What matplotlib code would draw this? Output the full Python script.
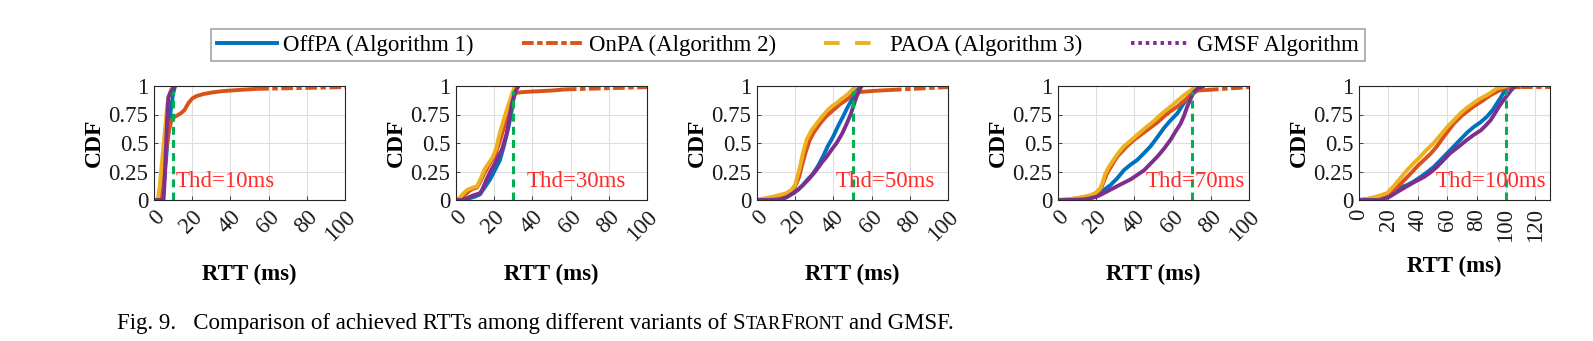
import numpy as np
import matplotlib
matplotlib.use("Agg")
import matplotlib.pyplot as plt
from matplotlib.lines import Line2D

plt.rcParams['font.family'] = ['Liberation Serif', 'DejaVu Serif']

# ---------------- data ----------------
thresholds = [10, 30, 50, 70, 100]
x_limits = [100, 100, 100, 100, 130]
x_ticks_short = [0, 20, 40, 60, 80, 100]
x_ticks_long = [0, 20, 40, 60, 80, 100, 120]
y_ticks = [0, 0.25, 0.5, 0.75, 1]
y_tick_labels = ['0', '0.25', '0.5', '0.75', '1']
series_names = ['OffPA (Algorithm 1)', 'OnPA (Algorithm 2)',
                'PAOA (Algorithm 3)', 'GMSF Algorithm']

# Thd = 10 ms
offpa_10_x = [0, 4, 5, 6, 7, 8, 9, 10, 11]
offpa_10_y = [0, 0, 0.1, 0.3, 0.5, 0.68, 0.82, 0.93, 1.0]
onpa_10_x = [0, 3, 4, 5, 6, 7, 8, 9, 10, 11, 12, 14, 16, 18, 20, 22, 26, 31, 36, 41.5, 47, 54, 100]
onpa_10_y = [0, 0, 0.08, 0.22, 0.38, 0.52, 0.62, 0.69, 0.72, 0.73, 0.74, 0.76, 0.79, 0.85, 0.89,
             0.91, 0.93, 0.945, 0.955, 0.962, 0.968, 0.975, 0.99]
paoa_10_x = [0, 2, 3, 4, 5, 6, 7, 8, 9, 10]
paoa_10_y = [0, 0, 0.12, 0.3, 0.48, 0.66, 0.84, 0.92, 0.97, 1.0]
gmsf_10_x = [0, 5, 5.5, 6, 6.5, 7, 7.5, 8.5, 9.5, 11]
gmsf_10_y = [0, 0, 0.15, 0.35, 0.55, 0.75, 0.9, 0.94, 0.97, 1.0]

# Thd = 30 ms
offpa_30_x = [0, 4, 6, 8, 10, 12.6, 15, 17.8, 20, 23, 25, 27.5, 29, 30, 31.8]
offpa_30_y = [0, 0, 0.01, 0.02, 0.03, 0.05, 0.11, 0.18, 0.25, 0.35, 0.47, 0.64, 0.77, 0.88, 0.99]
onpa_30_x = [0, 3, 5, 7, 9, 11, 13, 15, 17, 19, 21, 23, 25, 27, 29, 30.5, 32, 34, 38, 44, 50, 57, 100]
onpa_30_y = [0, 0.02, 0.05, 0.08, 0.1, 0.11, 0.17, 0.24, 0.3, 0.35, 0.42, 0.52, 0.63, 0.75, 0.86,
             0.93, 0.94, 0.945, 0.95, 0.955, 0.96, 0.97, 0.99]
paoa_30_x = [0, 2, 4, 6, 9, 11, 13, 15, 17, 19, 21, 22.5, 24, 26, 28, 29.5, 31]
paoa_30_y = [0, 0.02, 0.06, 0.09, 0.11, 0.12, 0.19, 0.27, 0.32, 0.37, 0.45, 0.56, 0.65, 0.76, 0.86, 0.94, 1.0]
gmsf_30_x = [0, 3, 5.6, 9, 12.6, 14, 16, 18, 20.4, 22, 24, 26.5, 28, 29.3, 31, 32.8]
gmsf_30_y = [0, 0, 0.015, 0.04, 0.06, 0.1, 0.18, 0.25, 0.32, 0.38, 0.44, 0.58, 0.72, 0.85, 0.95, 1.0]

# Thd = 50 ms
offpa_50_x = [0, 5, 10, 13.8, 16, 19, 21.5, 24, 26.5, 29.3, 32, 34.5, 37, 40, 42.5, 45, 47, 48.7,
              50.5, 52, 54]
offpa_50_y = [0, 0, 0.005, 0.015, 0.03, 0.06, 0.09, 0.13, 0.18, 0.23, 0.3, 0.38, 0.47, 0.56, 0.65,
              0.73, 0.8, 0.85, 0.91, 0.96, 1.0]
onpa_50_x = [0, 5, 10, 15, 18, 20, 22, 23.5, 25.5, 27.7, 30, 33, 36, 40, 43.5, 47, 50.4, 53, 55.7,
             62, 69.6, 100]
onpa_50_y = [0, 0.01, 0.03, 0.05, 0.08, 0.12, 0.2, 0.3, 0.42, 0.53, 0.6, 0.67, 0.73, 0.79, 0.84,
             0.88, 0.94, 0.945, 0.95, 0.958, 0.965, 0.99]
paoa_50_x = [0, 4, 8.7, 12, 15.5, 18, 19.9, 21, 22.5, 24, 26, 28.5, 31.2, 34, 36.5, 39, 41.7, 44.5,
             47, 49.5, 52]
paoa_50_y = [0, 0.015, 0.03, 0.045, 0.06, 0.09, 0.13, 0.2, 0.29, 0.41, 0.53, 0.61, 0.67, 0.73, 0.78,
             0.82, 0.85, 0.89, 0.92, 0.96, 1.0]
gmsf_50_x = [0, 5, 12, 15, 19, 21.5, 24, 27.5, 31, 34, 36.5, 39, 41.7, 44.5, 47, 49, 50.4, 52, 53.5, 54.8]
gmsf_50_y = [0, 0, 0.005, 0.02, 0.06, 0.09, 0.13, 0.19, 0.26, 0.33, 0.38, 0.44, 0.5, 0.58, 0.67,
             0.75, 0.82, 0.9, 0.96, 1.0]

# Thd = 70 ms
offpa_70_x = [0, 4.5, 10, 15, 18.5, 22, 25, 27.4, 31, 34.4, 38, 41.4, 45, 48.4, 52, 55.4, 59, 62.5,
              65.5, 68.6, 72, 74.7]
offpa_70_y = [0, 0, 0, 0.005, 0.025, 0.06, 0.1, 0.13, 0.19, 0.26, 0.31, 0.35, 0.41, 0.47, 0.55,
              0.63, 0.7, 0.76, 0.84, 0.91, 0.98, 1.0]
onpa_70_x = [0, 5, 10, 15, 18, 21, 23, 25.6, 28, 31, 36, 40, 44, 48, 52, 56, 59, 62.5, 66, 69.5,
             73, 78, 100]
onpa_70_y = [0, 0.005, 0.015, 0.03, 0.045, 0.07, 0.12, 0.23, 0.3, 0.38, 0.47, 0.53, 0.58, 0.63,
             0.68, 0.74, 0.78, 0.82, 0.87, 0.92, 0.96, 0.965, 0.99]
paoa_70_x = [0, 5, 9.8, 13, 16.8, 19.5, 22, 23.5, 24.7, 27, 29, 31.5, 34.4, 38, 41.4, 45.5, 50,
             54.5, 59, 62.5, 66, 68.5, 71, 74.7]
paoa_70_y = [0, 0.005, 0.015, 0.025, 0.04, 0.06, 0.1, 0.16, 0.23, 0.3, 0.35, 0.41, 0.47, 0.52,
             0.57, 0.63, 0.69, 0.76, 0.82, 0.87, 0.92, 0.95, 0.98, 1.0]
gmsf_70_x = [0, 5, 13.3, 17, 20.4, 24, 27.4, 32, 37.9, 41.5, 45, 48.5, 52, 55.5, 59, 61.5, 64.2,
             66, 67.7, 69.5, 71.2, 73.5, 76.5]
gmsf_70_y = [0, 0, 0.005, 0.015, 0.03, 0.06, 0.09, 0.13, 0.18, 0.22, 0.26, 0.32, 0.38, 0.45, 0.53,
             0.6, 0.67, 0.74, 0.82, 0.89, 0.95, 0.98, 1.0]

# Thd = 100 ms
offpa_100_x = [0, 5, 10, 14, 19, 23.5, 28, 32.6, 37, 41.7, 46, 50.9, 55.5, 60, 64.5, 69, 73.5, 78,
               82.5, 87, 91, 94, 96.5, 98.8, 101, 103]
offpa_100_y = [0, 0, 0.005, 0.015, 0.05, 0.09, 0.11, 0.13, 0.16, 0.2, 0.24, 0.29, 0.35, 0.41, 0.47,
               0.53, 0.59, 0.64, 0.68, 0.73, 0.79, 0.85, 0.9, 0.95, 0.98, 1.0]
onpa_100_x = [0, 6, 12, 19, 24, 29, 35, 40, 45, 49, 53, 58, 64.5, 70, 75, 78, 84, 89.6, 94, 98.8,
              105.6, 110, 130]
onpa_100_y = [0, 0.01, 0.025, 0.05, 0.09, 0.15, 0.23, 0.3, 0.36, 0.41, 0.47, 0.56, 0.67, 0.74,
              0.79, 0.82, 0.87, 0.92, 0.95, 0.98, 0.99, 0.99, 0.99]
paoa_100_x = [0, 6, 12, 19, 23.5, 28, 32.6, 37, 41.7, 46, 50.9, 55.5, 60, 64.5, 69, 73.5, 78, 82.5,
              87, 90.5, 94, 97.5, 101]
paoa_100_y = [0, 0.01, 0.03, 0.06, 0.12, 0.19, 0.26, 0.32, 0.38, 0.44, 0.5, 0.57, 0.64, 0.7, 0.76,
              0.81, 0.85, 0.89, 0.92, 0.95, 0.98, 0.99, 1.0]
gmsf_100_x = [0, 7, 14.4, 18, 21, 26, 32.6, 38, 44, 48.5, 53, 57.5, 62, 68, 73.7, 78, 82.8, 86,
              89.6, 92.5, 95.3, 98, 101, 104, 106.7]
gmsf_100_y = [0, 0, 0, 0.015, 0.03, 0.07, 0.12, 0.16, 0.2, 0.24, 0.29, 0.35, 0.41, 0.47, 0.53,
              0.57, 0.61, 0.65, 0.7, 0.76, 0.82, 0.87, 0.92, 0.97, 1.0]

panels = [
    [(offpa_10_x, offpa_10_y), (onpa_10_x, onpa_10_y), (paoa_10_x, paoa_10_y), (gmsf_10_x, gmsf_10_y)],
    [(offpa_30_x, offpa_30_y), (onpa_30_x, onpa_30_y), (paoa_30_x, paoa_30_y), (gmsf_30_x, gmsf_30_y)],
    [(offpa_50_x, offpa_50_y), (onpa_50_x, onpa_50_y), (paoa_50_x, paoa_50_y), (gmsf_50_x, gmsf_50_y)],
    [(offpa_70_x, offpa_70_y), (onpa_70_x, onpa_70_y), (paoa_70_x, paoa_70_y), (gmsf_70_x, gmsf_70_y)],
    [(offpa_100_x, offpa_100_y), (onpa_100_x, onpa_100_y), (paoa_100_x, paoa_100_y),
     (gmsf_100_x, gmsf_100_y)],
]
# where the threshold label starts (x in ms)
label_x = [11.5, 37, 41, 46, 52]

# ---------------- style ----------------
colors = ['#0072BD', '#D95319', '#EDB120', '#7E2F8E']
dash_styles = [None, (3.0, 0.9, 1.4, 0.9), (4.0, 4.0), (0.9, 1.0)]
LW = 2.8
GREEN = '#00B050'
FS = 16.5
W, H = 1593, 341

fig = plt.figure(figsize=(W / 100, H / 100), dpi=100)

ax_left_px = [154, 456, 757, 1058, 1359]
ax_w_px = 191
ax_top_px, ax_bot_px = 86, 200
ax_h_px = ax_bot_px - ax_top_px


def draw_series(ax, xs, ys, color, dashes, span):
    """Dense stretches render solid; long sparse segments show the dash pattern."""
    xs = np.asarray(xs, float)
    ys = np.asarray(ys, float)
    long_seg = np.diff(xs) > 0.15 * span
    start = 0
    for i in range(len(xs) - 1):
        if long_seg[i]:
            if i > start:
                ax.plot(xs[start:i + 1], ys[start:i + 1], color=color, lw=LW,
                        solid_joinstyle='round', solid_capstyle='butt')
            if dashes is None:
                ax.plot(xs[i:i + 2], ys[i:i + 2], color=color, lw=LW)
            else:
                ax.plot(xs[i:i + 2], ys[i:i + 2], color=color, lw=LW,
                        dashes=dashes, dash_capstyle='butt')
            start = i + 1
    if start < len(xs) - 1:
        ax.plot(xs[start:], ys[start:], color=color, lw=LW,
                solid_joinstyle='round', solid_capstyle='butt')


for k in range(5):
    ax = fig.add_axes([ax_left_px[k] / W, 1 - ax_bot_px / H, ax_w_px / W, ax_h_px / H])
    span = x_limits[k]
    for (xs, ys), c, d in zip(panels[k], colors, dash_styles):
        draw_series(ax, xs, ys, c, d, span)
    ax.plot([thresholds[k], thresholds[k]], [0, 0.96], color=GREEN, lw=2.2,
            dashes=(2.6, 1.7))
    ax.text(label_x[k], 0.16, f'Thd={thresholds[k]}ms', color='#FF2A2A',
            fontsize=FS, va='center', ha='left')

    ax.set_xlim(0, span)
    ax.set_ylim(0, 1)
    ax.set_yticks(y_ticks)
    ax.set_yticklabels(y_tick_labels)
    ax.grid(True, color='#dedede', lw=0.8)
    ax.set_axisbelow(True)
    for s in ax.spines.values():
        s.set_color('#262626')
        s.set_linewidth(0.8)
    ax.tick_params(direction='in', length=3, width=0.6, labelsize=FS,
                   colors='#262626', labelcolor='#1a1a1a', pad=4)
    if k < 4:
        ax.set_xticks(x_ticks_short)
        ax.set_xticklabels([str(v) for v in x_ticks_short], rotation=45,
                           ha='right', va='top', rotation_mode='anchor')
        ax.tick_params(axis='x', pad=5)
        xlabel_y = -(274 - ax_bot_px) / ax_h_px
    else:
        ax.set_xticks(x_ticks_long)
        ax.set_xticklabels([str(v) for v in x_ticks_long], rotation=90,
                           ha='center', va='top')
        ax.tick_params(axis='x', pad=6)
        xlabel_y = -(266 - ax_bot_px) / ax_h_px
    ax.set_xlabel('RTT (ms)', fontsize=FS, fontweight='bold', va='center')
    ax.xaxis.set_label_coords(0.5, xlabel_y)
    ax.set_ylabel('CDF', fontsize=17, fontweight='bold', va='center')
    ax.yaxis.set_label_coords(-60 / ax_w_px, 0.5)

# legend
handles = []
for c, d in zip(colors, dash_styles):
    if d is None:
        handles.append(Line2D([], [], color=c, lw=LW))
    else:
        handles.append(Line2D([], [], color=c, lw=LW, dashes=d, dash_capstyle='butt'))
leg = fig.legend(handles, series_names, loc='center', ncol=4,
                 bbox_to_anchor=(788 / W, 1 - 45 / H), fontsize=FS,
                 frameon=True, fancybox=False, edgecolor='#8c8c8c',
                 handlelength=2.6, handletextpad=0.3, columnspacing=2.1,
                 borderpad=0.25, borderaxespad=0)
leg.get_frame().set_linewidth(1.2)

# caption with small caps for the system name
renderer = fig.canvas.get_renderer()
cap_pieces = [('Fig. 9.   Comparison of achieved RTTs among different variants of ', FS),
              ('S', FS), ('TAR', 13.2), ('F', FS), ('RONT', 13.2), (' and GMSF.', FS)]
x_px = 117
y_px = 329


def text_width(s, size):
    t = fig.text(0, 0, s, fontsize=size)
    w = t.get_window_extent(renderer).width
    t.remove()
    return w


for s, size in cap_pieces:
    space_w = text_width('a a', size) - text_width('aa', size)
    lead = len(s) - len(s.lstrip(' '))
    trail = len(s) - len(s.rstrip(' '))
    core = s.strip(' ')
    x_px += lead * space_w
    fig.text(x_px / W, 1 - y_px / H, core, fontsize=size, va='baseline', ha='left')
    x_px += text_width(core, size) + trail * space_w

fig.savefig('out.png', dpi=100)
